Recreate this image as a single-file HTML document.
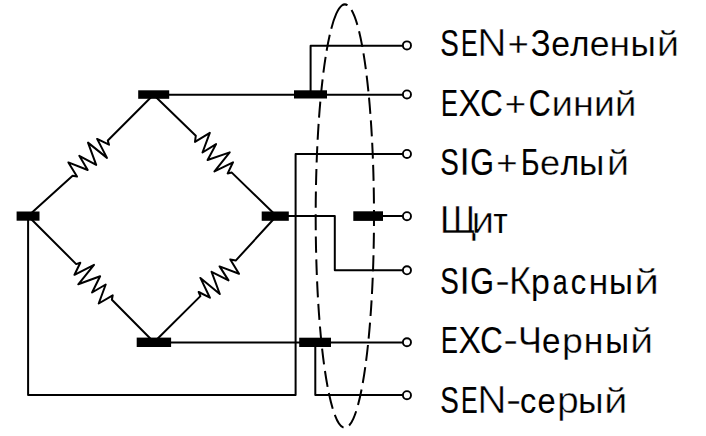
<!DOCTYPE html>
<html><head><meta charset="utf-8"><style>
html,body{margin:0;padding:0;background:#fff;width:706px;height:436px;overflow:hidden}
svg{display:block}
</style></head><body>
<svg width="706" height="436" viewBox="0 0 706 436"><g fill="none" stroke="#000" stroke-width="2" stroke-linejoin="round"><polyline points="28.1,216 72.6,175.8 77,176.5 68.4,162.4 87.7,170 79.3,155.8 96.2,164.9 88,142.6 107,157.9 97.1,138.9 109,144.7 107.8,140.5 153.5,94.8"/><polyline points="153.5,94.8 195.8,135.7 195,141.9 209.8,132.8 202.5,152.5 216.1,144.1 207.6,160 229.7,152.4 214.5,171.4 233,162.3 227.7,173.4 231.8,172.6 276.5,216"/><polyline points="28.1,216 76.2,264.1 80.3,262.8 74.5,274.8 94,264.9 78.3,284.3 100.1,276.2 92.1,292.5 105.7,284.5 98.7,303.5 112.7,295.3 111.9,299.8 154,342.3"/><polyline points="154,342.3 200.4,296.1 198.7,292 209.9,297.7 200.4,277.9 219.8,294 211.6,271.8 228.5,280.4 219.6,266.4 239,273.8 230.3,259.4 235.7,260.6 276.5,216"/><path d="M153.5,94.8H402.9"/><path d="M310.6,94.8V45.8H402.9"/><path d="M276.5,216.0H334.8V270.3H402.9"/><path d="M368.3,216.0H402.9"/><path d="M28.1,216V395.0H295.6V154.1H402.9"/><path d="M154,342.4H402.9"/><path d="M315.3,342.4V395.0H402.9"/></g><g fill="#000"><rect x="138.2" y="90.3" width="31.00" height="8.50"/><rect x="16.6" y="211.5" width="22.90" height="9.20"/><rect x="261.7" y="211.5" width="27.10" height="9.30"/><rect x="136.7" y="337.6" width="34.40" height="9.40"/><rect x="294" y="90.3" width="33.00" height="8.20"/><rect x="353.3" y="211.3" width="29.70" height="9.60"/><rect x="299.2" y="337.7" width="31.80" height="9.30"/></g><g fill="#fff" stroke="#000" stroke-width="1.9"><circle cx="406.95" cy="45.4" r="4.05"/><circle cx="406.95" cy="94.45" r="4.05"/><circle cx="406.95" cy="153.95" r="4.05"/><circle cx="406.95" cy="216.2" r="4.05"/><circle cx="406.95" cy="270.3" r="4.05"/><circle cx="406.95" cy="342.25" r="4.05"/><circle cx="406.95" cy="395.2" r="4.05"/></g><path d="M336.30,13.648A29.15 211.74 0 0 1 353.38,418.552A29.15 211.74 0 0 1 336.30,13.648" fill="none" stroke="#000" stroke-width="2" stroke-dasharray="16 6.47"/><g font-family="Liberation Sans, sans-serif" font-size="35.3" fill="#000"><text transform="translate(440.30,55.70) scale(0.7878,1.0455)" stroke="#000" stroke-width="0.20">S</text><text transform="translate(461.07,55.70) scale(0.7058,1.0455)" stroke="#000" stroke-width="0.20">E</text><text transform="translate(477.26,56.07) scale(1.1482,1.0762)" stroke="#fff" stroke-width="0.50">N</text><text transform="translate(507.82,55.93) scale(1.0208,1.0107)" stroke="#fff" stroke-width="0.25">+</text><text transform="translate(530.85,55.78) scale(0.9292,1.0521)" stroke="#000" stroke-width="0.05">З</text><text transform="translate(551.22,55.82) scale(0.9555,0.9950)" stroke="#fff" stroke-width="0.05">е</text><text transform="translate(570.28,55.77) scale(0.9240,0.9891)" stroke="#000" stroke-width="0.07">л</text><text transform="translate(589.75,55.91) scale(1.0077,1.0041)" stroke="#fff" stroke-width="0.21">е</text><text transform="translate(609.49,55.97) scale(1.0526,1.0113)" stroke="#fff" stroke-width="0.34">н</text><text transform="translate(630.62,55.89) scale(0.9969,1.0023)" stroke="#fff" stroke-width="0.18">ы</text><text transform="translate(656.76,56.05) scale(1.1415,1.0199)" stroke="#fff" stroke-width="0.50">й</text><text transform="translate(441.04,115.80) scale(0.7160,1.0455)" stroke="#000" stroke-width="0.20">E</text><text transform="translate(458.40,115.92) scale(0.9517,1.0555)" stroke="#fff" stroke-width="0.03">X</text><text transform="translate(480.21,115.80) scale(0.8804,1.0455)" stroke="#000" stroke-width="0.20">C</text><text transform="translate(504.67,116.05) scale(1.0350,1.0132)" stroke="#fff" stroke-width="0.29">+</text><text transform="translate(528.75,115.80) scale(0.8582,1.0455)" stroke="#000" stroke-width="0.20">С</text><text transform="translate(551.54,116.12) scale(1.0884,1.0167)" stroke="#fff" stroke-width="0.44">и</text><text transform="translate(573.02,116.10) scale(1.0702,1.0140)" stroke="#fff" stroke-width="0.39">н</text><text transform="translate(593.98,116.08) scale(1.0538,1.0115)" stroke="#fff" stroke-width="0.35">и</text><text transform="translate(614.77,116.15) scale(1.1057,1.0192)" stroke="#fff" stroke-width="0.49">й</text><text transform="translate(440.30,174.70) scale(0.7878,1.0455)" stroke="#000" stroke-width="0.20">S</text><text transform="translate(458.53,175.07) scale(1.2526,1.0762)" stroke="#fff" stroke-width="0.50">I</text><text transform="translate(470.16,174.70) scale(0.8636,1.0455)" stroke="#000" stroke-width="0.20">G</text><text transform="translate(496.27,174.95) scale(1.0350,1.0132)" stroke="#fff" stroke-width="0.29">+</text><text transform="translate(521.02,174.70) scale(0.7995,1.0455)" stroke="#000" stroke-width="0.20">Б</text><text transform="translate(540.00,174.93) scale(1.0227,1.0065)" stroke="#fff" stroke-width="0.26">е</text><text transform="translate(560.75,174.70) scale(0.8842,0.9820)" stroke="#000" stroke-width="0.20">л</text><text transform="translate(578.92,174.89) scale(0.9969,1.0023)" stroke="#fff" stroke-width="0.18">ы</text><text transform="translate(606.76,175.05) scale(1.1415,1.0199)" stroke="#fff" stroke-width="0.50">й</text><text transform="translate(439.49,233.07) scale(1.1401,1.0762)" stroke="#fff" stroke-width="0.50">Щ</text><text transform="translate(471.44,233.05) scale(1.1485,1.0199)" stroke="#fff" stroke-width="0.50">и</text><text transform="translate(493.44,232.70) scale(0.8680,0.9820)" stroke="#000" stroke-width="0.20">т</text><text transform="translate(440.30,293.70) scale(0.7878,1.0455)" stroke="#000" stroke-width="0.20">S</text><text transform="translate(458.53,294.07) scale(1.2526,1.0762)" stroke="#fff" stroke-width="0.50">I</text><text transform="translate(470.16,293.70) scale(0.8636,1.0455)" stroke="#000" stroke-width="0.20">G</text><text transform="translate(495.22,293.26) scale(1.2485,1.0673)" stroke="#fff" stroke-width="0.30">-</text><text transform="translate(508.66,294.04) scale(1.0932,1.0742)" stroke="#fff" stroke-width="0.45">К</text><text transform="translate(530.91,293.83) scale(0.9597,0.9958)" stroke="#fff" stroke-width="0.06">р</text><text transform="translate(552.78,293.70) scale(0.7587,0.9820)" stroke="#000" stroke-width="0.20">а</text><text transform="translate(570.66,293.70) scale(0.8672,0.9820)" stroke="#000" stroke-width="0.20">с</text><text transform="translate(588.53,293.92) scale(1.0175,1.0057)" stroke="#fff" stroke-width="0.24">н</text><text transform="translate(608.96,293.79) scale(0.9393,0.9920)">ы</text><text transform="translate(634.08,294.05) scale(1.2807,1.0199)" stroke="#fff" stroke-width="0.50">й</text><text transform="translate(441.04,352.90) scale(0.7160,1.0455)" stroke="#000" stroke-width="0.20">E</text><text transform="translate(458.40,353.02) scale(0.9517,1.0555)" stroke="#fff" stroke-width="0.03">X</text><text transform="translate(480.21,352.90) scale(0.8804,1.0455)" stroke="#000" stroke-width="0.20">C</text><text transform="translate(503.20,352.46) scale(1.2604,1.0673)" stroke="#fff" stroke-width="0.30">-</text><text transform="translate(518.09,353.13) scale(1.0162,1.0646)" stroke="#fff" stroke-width="0.24">Ч</text><text transform="translate(542.06,353.00) scale(0.9406,0.9923)">е</text><text transform="translate(562.10,353.19) scale(1.0628,1.0129)" stroke="#fff" stroke-width="0.37">р</text><text transform="translate(583.77,353.11) scale(1.0088,1.0043)" stroke="#fff" stroke-width="0.22">н</text><text transform="translate(605.18,352.98) scale(0.9335,0.9909)" stroke="#000" stroke-width="0.03">ы</text><text transform="translate(630.05,353.25) scale(1.1833,1.0199)" stroke="#fff" stroke-width="0.50">й</text><text transform="translate(440.30,412.70) scale(0.7878,1.0455)" stroke="#000" stroke-width="0.20">S</text><text transform="translate(461.07,412.70) scale(0.7058,1.0455)" stroke="#000" stroke-width="0.20">E</text><text transform="translate(477.26,413.07) scale(1.1482,1.0762)" stroke="#fff" stroke-width="0.50">N</text><text transform="translate(505.94,412.26) scale(1.2961,1.0673)" stroke="#fff" stroke-width="0.30">-</text><text transform="translate(520.03,412.76) scale(0.9200,0.9884)" stroke="#000" stroke-width="0.08">с</text><text transform="translate(537.41,412.77) scale(0.9256,0.9894)" stroke="#000" stroke-width="0.06">е</text><text transform="translate(557.01,413.05) scale(1.1104,1.0198)" stroke="#fff" stroke-width="0.50">р</text><text transform="translate(577.90,412.90) scale(1.0027,1.0033)" stroke="#fff" stroke-width="0.20">ы</text><text transform="translate(604.11,413.05) scale(1.1972,1.0199)" stroke="#fff" stroke-width="0.50">й</text></g></svg>
</body></html>
